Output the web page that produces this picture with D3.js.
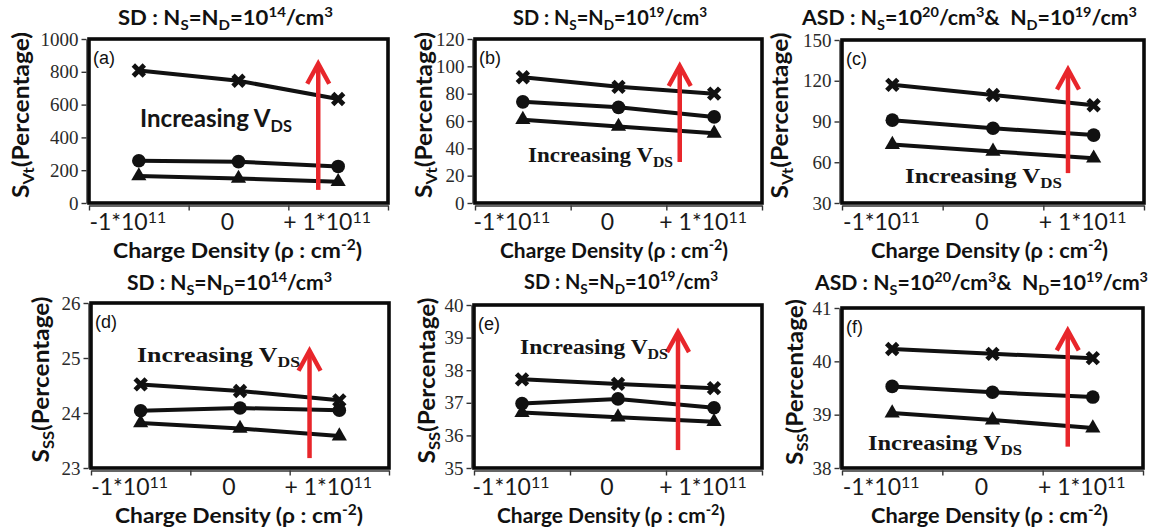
<!DOCTYPE html>
<html><head><meta charset="utf-8">
<script src="https://cdn.jsdelivr.net/npm/d3@7"></script>
<style>body{margin:0;background:#fff}</style>
</head><body>
<svg id="chart" width="1154" height="531"></svg>
<script>
// Charge density categories (x axis) and their tick label parts
const categories = ["-1e11", "0", "+1e11"];
const categoryBase = ["-1*10", "0", "+ 1*10"];
const categorySup = ["11", "", "11"];

// Threshold-voltage sensitivity S_Vt (%), three drain biases (high / mid / low V_DS)
const svtSD14High = [808, 745, 634];
const svtSD14Mid  = [258, 252, 223];
const svtSD14Low  = [165, 150, 130];

const svtSD19High = [92, 85, 80];
const svtSD19Mid  = [74, 70, 63];
const svtSD19Low  = [61, 56, 51];

const svtASDHigh = [117, 109.5, 102];
const svtASDMid  = [91, 85, 80];
const svtASDLow  = [73, 68, 63];

// Subthreshold-swing sensitivity S_SS (%)
const sssSD14High = [24.52, 24.40, 24.23];
const sssSD14Mid  = [24.04, 24.09, 24.05];
const sssSD14Low  = [23.82, 23.72, 23.58];

const sssSD19High = [37.72, 37.58, 37.45];
const sssSD19Mid  = [36.98, 37.12, 36.85];
const sssSD19Low  = [36.70, 36.56, 36.42];

const sssASDHigh = [40.23, 40.14, 40.06];
const sssASDMid  = [39.53, 39.42, 39.33];
const sssASDLow  = [39.03, 38.90, 38.75];

// Y tick values per panel
const ticksA = [0, 200, 400, 600, 800, 1000];
const ticksB = [0, 20, 40, 60, 80, 100, 120];
const ticksC = [30, 60, 90, 120, 150];
const ticksD = [23, 24, 25, 26];
const ticksE = [35, 36, 37, 38, 39, 40];
const ticksF = [38, 39, 40, 41];

// Rich text pieces: [text, mode] where mode is "" / "sub" / "sup"
const titleSD14 = [["SD : N",""],["S","sub"],["=N",""],["D","sub"],["=10",""],["14","sup"],["/cm",""],["3","sup"]];
const titleSD19 = [["SD : N",""],["S","sub"],["=N",""],["D","sub"],["=10",""],["19","sup"],["/cm",""],["3","sup"]];
const titleASD  = [["ASD : N",""],["S","sub"],["=10",""],["20","sup"],["/cm",""],["3","sup"],["& \u00a0N",""],["D","sub"],["=10",""],["19","sup"],["/cm",""],["3","sup"]];
const yTitleVt = [["S",""],["Vt","sub"],["(Percentage)",""]];
const yTitleSS = [["S",""],["SS","sub"],["(Percentage)",""]];
const xTitle = [["Charge Density (\u03c1 : cm",""],["-2","sup"],[")",""]];
const noteText = [["Increasing V",""],["DS","sub"]];

const SANS = "Lato, 'Open Sans', sans-serif";
const SERIF = "'Liberation Serif', 'Times New Roman', serif";
const RED = "#e8262b";

const panels = [
  {tag:"(a)", box:[89,39,388,203], domain:[0,1000], ticks:ticksA, series:[svtSD14High,svtSD14Mid,svtSD14Low],
   title:titleSD14, titleX:118, titleW:215, titleY:25, yTitle:yTitleVt, yTitleX:22,
   xTitleC:237.5, xTitleW:249, arrowX:1.8, arrowFrom:80, arrowTo:855,
   note:{x:140, y:126.5, w:152, font:SANS, size:24}},
  {tag:"(b)", box:[475,39,762,203], domain:[0,120], ticks:ticksB, series:[svtSD19High,svtSD19Mid,svtSD19Low],
   title:titleSD19, titleX:513, titleW:194, titleY:25, yTitle:yTitleVt, yTitleX:425,
   xTitleC:614, xTitleW:228, arrowX:1.64, arrowFrom:30, arrowTo:101,
   note:{x:528, y:161.5, w:145, font:SERIF, size:22}},
  {tag:"(c)", box:[842,40,1144,203], domain:[30,150], ticks:ticksC, series:[svtASDHigh,svtASDMid,svtASDLow],
   title:titleASD, titleX:802, titleW:335, titleY:25, yTitle:yTitleVt, yTitleX:781,
   xTitleC:989.5, xTitleW:237, arrowX:1.745, arrowFrom:52, arrowTo:129,
   note:{x:905, y:183, w:157, font:SERIF, size:22}},
  {tag:"(d)", box:[91,303,389,468], domain:[23,26], ticks:ticksD, series:[sssSD14High,sssSD14Mid,sssSD14Low],
   title:titleSD14, titleX:127, titleW:205, titleY:290, yTitle:yTitleSS, yTitleX:42,
   xTitleC:239, xTitleW:248, arrowX:1.7, arrowFrom:23.18, arrowTo:25.15,
   note:{x:137, y:362, w:163, font:SERIF, size:22}},
  {tag:"(e)", box:[474,305,762,468], domain:[35,40], ticks:ticksE, series:[sssSD19High,sssSD19Mid,sssSD19Low],
   title:titleSD19, titleX:524, titleW:194, titleY:289, yTitle:yTitleSS, yTitleX:428,
   xTitleC:611, xTitleW:228, arrowX:1.625, arrowFrom:35.55, arrowTo:39.2,
   note:{x:520, y:353.5, w:148, font:SERIF, size:22}},
  {tag:"(f)", box:[842,308,1143,468], domain:[38,41], ticks:ticksF, series:[sssASDHigh,sssASDMid,sssASDLow],
   title:titleASD, titleX:815, titleW:333, titleY:290, yTitle:yTitleSS, yTitleX:796,
   xTitleC:989.5, xTitleW:237, arrowX:1.75, arrowFrom:38.4, arrowTo:40.6,
   note:{x:868, y:450, w:154, font:SERIF, size:22}}
];

const svg = d3.select("#chart");

// Writes rich text (subscript / superscript runs) into a <text> element
function rich(textSel, parts, size) {
  let shift = 0;
  parts.forEach(([t, mode]) => {
    const target = mode === "sub" ? 0.24 * size : mode === "sup" ? -0.38 * size : 0;
    textSel.append("tspan")
      .attr("dy", target - shift)
      .attr("font-size", mode ? size * 0.68 : size)
      .text(t);
    shift = target;
  });
  return textSel;
}

function fitWidth(textSel, width) {
  textSel.attr("textLength", width).attr("lengthAdjust", "spacingAndGlyphs");
}

const markerShapes = {
  cross: g => g.append("path").attr("d", "M-5.5,-5.5L5.5,5.5M-5.5,5.5L5.5,-5.5")
      .attr("stroke", "#111").attr("stroke-width", 4.8).attr("fill", "none"),
  circle: g => g.append("circle").attr("r", 6.8).attr("fill", "#111"),
  triangle: g => g.append("path").attr("d", d3.symbol(d3.symbolTriangle, 100)()).attr("fill", "#111")
};
const markerOrder = ["cross", "circle", "triangle"];

panels.forEach(p => {
  const [left, top, right, bottom] = p.box;
  const g = svg.append("g");
  const x = d3.scaleLinear().domain([0, categories.length]).range([left, right]);
  const y = d3.scaleLinear().domain(p.domain).range([bottom, top]);

  // Y axis (outside the frame)
  const yAxis = g.append("g").attr("transform", `translate(${left - 2.5},0)`)
    .call(d3.axisLeft(y).tickValues(p.ticks).tickFormat(d3.format("d"))
      .tickSizeInner(5).tickSizeOuter(0).tickPadding(3));
  yAxis.select(".domain").attr("stroke", "#333").attr("stroke-width", 1.4);
  yAxis.selectAll(".tick line").attr("stroke", "#333").attr("stroke-width", 1.4);
  yAxis.selectAll(".tick text").attr("font-family", SERIF).attr("font-size", 19).attr("fill", "#2a2a2a");

  // X axis: tick marks at category boundaries
  const xAxis = g.append("g").attr("transform", `translate(0,${bottom + 2.5})`)
    .call(d3.axisBottom(x).tickValues(d3.range(categories.length + 1)).tickSizeInner(5).tickSizeOuter(0).tickFormat(""));
  xAxis.select(".domain").attr("stroke", "#333").attr("stroke-width", 1.4);
  xAxis.selectAll(".tick line").attr("stroke", "#333").attr("stroke-width", 1.4);

  categories.forEach((c, i) => {
    const t = g.append("text").attr("x", x(i + 0.5) - 11).attr("y", bottom + 27)
      .attr("text-anchor", "middle").attr("font-family", SANS).attr("font-size", 23).attr("fill", "#1a1a1a");
    const parts = [[categoryBase[i], ""]];
    if (categorySup[i]) parts.push([categorySup[i], "sup"]);
    let shift = 0;
    parts.forEach(([s, mode]) => {
      const target = mode === "sup" ? -7 : 0;
      t.append("tspan").attr("dy", target - shift).attr("font-size", mode ? 16 : 23).text(s);
      shift = target;
    });
  });

  // Frame
  g.append("rect").attr("x", left).attr("y", top).attr("width", right - left).attr("height", bottom - top)
    .attr("fill", "none").attr("stroke", "#0a0a0a").attr("stroke-width", 3.6);

  // Panel tag
  g.append("text").attr("x", left + 4).attr("y", top + 25).attr("font-family", "'Liberation Sans', Arial, sans-serif")
    .attr("font-size", 18).attr("fill", "#111").text(p.tag);

  // Series lines and markers
  const line = d3.line().x((d, i) => x(i + 0.5)).y(d => y(d));
  p.series.forEach((vals, si) => {
    g.append("path").attr("d", line(vals)).attr("fill", "none").attr("stroke", "#111").attr("stroke-width", 4);
    vals.forEach((v, i) => {
      const m = g.append("g").attr("transform", `translate(${x(i + 0.5)},${y(v)})`);
      markerShapes[markerOrder[si]](m);
    });
  });

  // Red arrow: increasing V_DS
  const ax = x(p.arrowX + 0.5), ay0 = y(p.arrowFrom), ay1 = y(p.arrowTo);
  g.append("line").attr("x1", ax).attr("x2", ax).attr("y1", ay0).attr("y2", ay1 + 2)
    .attr("stroke", RED).attr("stroke-width", 4.5);
  g.append("path").attr("d", `M${ax - 11},${ay1 + 21}L${ax},${ay1 + 1}L${ax + 11},${ay1 + 21}`)
    .attr("fill", "none").attr("stroke", RED).attr("stroke-width", 4.5).attr("stroke-linejoin", "miter");

  // Annotation
  const n = p.note;
  const note = g.append("text").attr("x", n.x).attr("y", n.y).attr("font-family", n.font)
    .attr("font-weight", "bold").attr("fill", "#151515");
  rich(note, noteText, n.size);
  fitWidth(note, n.w);

  // Title
  const title = g.append("text").attr("x", p.titleX).attr("y", p.titleY).attr("font-family", SANS)
    .attr("font-weight", "bold").attr("fill", "#111");
  rich(title, p.title, 20);
  fitWidth(title, p.titleW);

  // Y title
  const cy = (top + bottom) / 2 - 6;
  const yt = g.append("text").attr("transform", `translate(${p.yTitleX + 7},${cy}) rotate(-90)`)
    .attr("text-anchor", "middle").attr("font-family", SANS).attr("font-weight", "bold").attr("fill", "#111");
  rich(yt, p.yTitle, 22);
  fitWidth(yt, 166);

  // X title
  const xt = g.append("text").attr("x", p.xTitleC).attr("y", bottom + 55)
    .attr("text-anchor", "middle").attr("font-family", SANS).attr("font-weight", "bold").attr("fill", "#111");
  rich(xt, xTitle, 21);
  fitWidth(xt, p.xTitleW);
});
</script>
</body></html>
